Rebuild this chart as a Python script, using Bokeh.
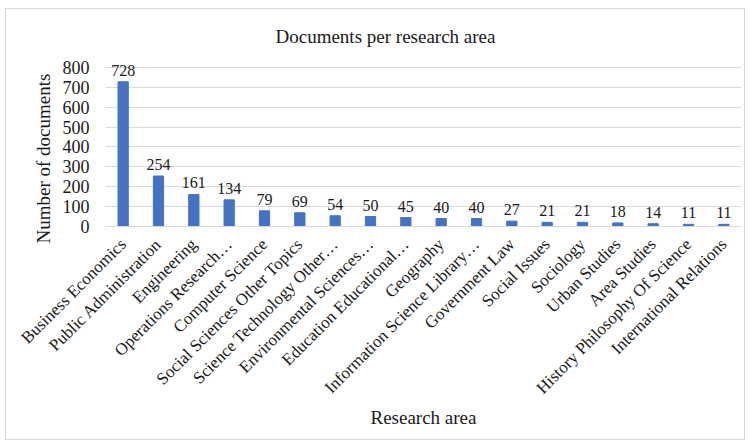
import math
from bokeh.plotting import figure
from bokeh.models import ColumnDataSource, FixedTicker, Range1d, Title
from bokeh.embed import file_html
from bokeh.resources import INLINE

areas = ["Business Economics", "Public Administration", "Engineering", "Operations Research…",
         "Computer Science", "Social Sciences Other Topics", "Science Technology Other…",
         "Environmental Sciences…", "Education Educational…", "Geography",
         "Information Science Library…", "Government Law", "Social Issues", "Sociology",
         "Urban Studies", "Area Studies", "History Philosophy Of Science", "International Relations"]
documents = [728, 254, 161, 134, 79, 69, 54, 50, 45, 40, 40, 27, 21, 21, 18, 14, 11, 11]
y_ticks = [0, 100, 200, 300, 400, 500, 600, 700, 800]

FONT = "Liberation Serif"
BLUE = "#4472C4"
TXT = "#1a1a1a"

src = ColumnDataSource(dict(area=areas, docs=documents, lbl=[str(v) for v in documents]))

p = figure(x_range=areas, y_range=Range1d(0, 850), width=740, height=432,
           output_backend="svg", toolbar_location=None,
           min_border_left=99, min_border_right=5, min_border_top=48, min_border_bottom=215,
           margin=(8, 0, 0, 5))
p.styles = {"border": "1px solid #d9d9d9", "box-sizing": "border-box"}
p.outline_line_color = None
p.background_fill_color = "white"
p.border_fill_color = "white"

p.vbar(x="area", top="docs", width=0.29, color=BLUE, source=src)
p.text(x="area", y="docs", text="lbl", source=src, text_align="center", text_baseline="bottom",
       y_offset=-6, text_font=FONT, text_font_size="16px", text_color=TXT)

p.xgrid.grid_line_color = None
p.ygrid.grid_line_color = "#d9d9d9"
p.yaxis.ticker = FixedTicker(ticks=y_ticks)
p.yaxis.axis_line_color = None
p.yaxis.major_tick_line_color = None
p.yaxis.minor_tick_line_color = None
p.yaxis.major_label_text_font = FONT
p.yaxis.major_label_text_font_size = "18px"
p.yaxis.major_label_text_color = TXT
p.yaxis.major_label_standoff = 10

p.xaxis.axis_line_color = "#d9d9d9"
p.xaxis.major_tick_line_color = None
p.xaxis.minor_tick_line_color = None
p.xaxis.major_label_orientation = math.pi / 4
p.xaxis.major_label_text_font = FONT
p.xaxis.major_label_text_font_size = "17px"
p.xaxis.major_label_text_color = TXT
p.xaxis.major_label_standoff = 9
p.xaxis.axis_label = "Research area"
p.xaxis.axis_label_text_font = FONT
p.xaxis.axis_label_text_font_size = "19px"
p.xaxis.axis_label_text_font_style = "normal"
p.xaxis.axis_label_text_color = TXT
p.xaxis.axis_label_standoff = 0

p.add_layout(Title(text="Documents per research area", align="left", offset=170, standoff=22,
                   text_font=FONT, text_font_size="19px", text_font_style="normal",
                   text_color=TXT), "above")
p.add_layout(Title(text="Number of documents", align="left", offset=-17, standoff=12,
                   text_font=FONT, text_font_size="19px", text_font_style="normal",
                   text_color=TXT), "left")

open("out.html", "w").write(file_html(p, INLINE))
